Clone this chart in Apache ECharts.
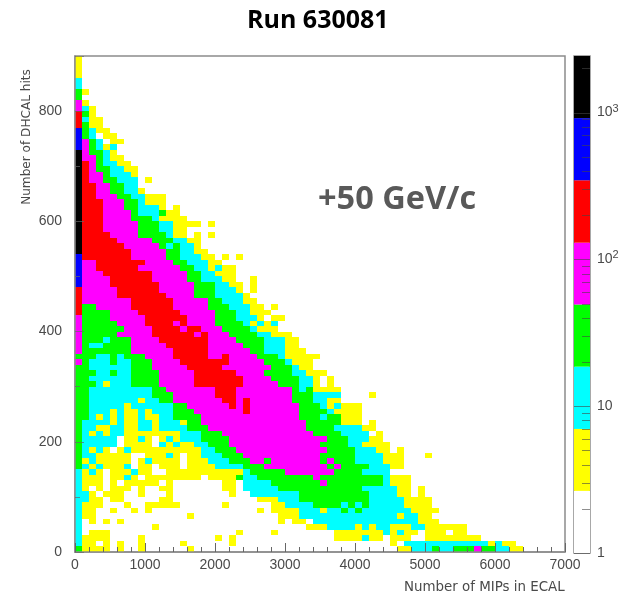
<!DOCTYPE html>
<html><head><meta charset="utf-8">
<style>html,body{margin:0;padding:0;background:#fff}#c{width:631px;height:596px}</style>
<script src="https://cdn.jsdelivr.net/npm/echarts@6/dist/echarts.min.js"></script>
</head><body><div id="c"></div>
<script>
// colour band per histogram cell, one string per row from y=890 down to y=0.
// each token is band or band:repeat, 0 = empty, 1..7 = yellow..black
const rowBands = [
"1","1","1","1","2","2","3 1","3","4 1","4 2 1","5 3 1","5 2 1:2","5 3 1:2","6 3 2 1:2","6 3 2 0 1:2",
"6 4 3 2 0 1:2","6 4 3 2 1 2","7 4 3:2 2 1","7 4:2 3 2 1:2","7 5 4 3 2:2 1:2","7 5 4 3:2 2:2 1:2",
"7 5 4:2 3 2:3 1","7 5 4:2 3:2 2:3 0 1","7 5:2 4:2 3:2 2:2","7 5:2 4:2 3:2 2:2 1","7 5:2 4:3 3:2 2:2 1:3",
"7 5:3 4:3 3:2 2 1:3","7 5:3 4:3 3:2 2:3 1 0 1","7 5:3 4:4 3 2:3 3 1:2","7 5:3 4:4 3:3 2 1:4",
"7 5:3 4:5 3:3 2:2 1:4 0 1","7 5:3 4:5 3:3 2:2 1:2","7 5:4 4:4 3:4 2 1:2 0 1 0 1","7 5:5 4:5 3:3 2:2 1:2",
"7 5:6 4:5 3 2 3 2:2 1","7 5:7 4:5 3:2 2:2 1:2","6 5:7 4:5 3:2 2:3 1:2 0 1 0 1","6 4:2 5:7 4:4 3:2 2:3 1:2",
"6 4:2 5:6 4:6 3:2 2:2 1 2 1:2","6 4:3 5:7 4:5 3:2 2:2 1:3","6 4:4 5:6 4:5 3:2 2:3 1:2 0:2 1",
"6 4:4 5:7 4:5 3:3 2:2 1:2 0 1","5 4:5 5:6 4:5 3:3 2:3 1 0 1","5 4:5 5:7 4:4 3:3 2:4 1","5 4:7 5:6 4:5 3:2 2:3 1:2",
"5 3:2 4:5 5:6 4:5 3:3 2:3 1:2 0 1","5 3:4 4:4 5:6 4:5 3:3 2:2 1:3","4 3:4 4:5 5:6 4:4 3:3 2:3 1 0 1:2",
"4 3:5 4:4 5:4 4 5 4:4 3:4 2 1 2 1 2","4 3:6 4:4 5:4 4 5:2 4:3 3:4 2 1:3","4 3:5 4:5 5:6 4 5 4:3 3:4 2:2 1:3",
"4 3:3 2 3:3 4:4 5:7 4:4 3:4 2:3 1:2","4 3 2:2 3:4 4:5 5:6 4:5 3:3 2:3 1:2","4 3:7 4:6 5:5 4:6 3:2 2:3 1:3",
"3:3 2:2 3 2 3:3 4:4 5:5 4:2 5 4:4 3:3 2 1:5","4 3 2:3 3 2:2 3:3 4:4 5:7 4:5 3:3 2 1:3","3:2 2:6 3:3 4:5 5:5 4:7 3:3 2 1:2",
"3:3 2:2 3 2:2 3:4 4:5 5:6 4:4 3:4 2:2 1:3","3:2 2:6 3:4 4:5 5:7 4:4 3:4 2:2 1 0 1","3:3 2 1 2:3 3:4 4:5 5:7 4:5 3:3 2:2 1 0 1",
"3:2 2:9 3:2 4:7 5:3 4:8 3 2 3 1:4","3:2 2:9 3:3 4:6 5:3 4:8 3:3 2:4 0:4 1","3:2 2:7 1 2:2 3:2 4:7 5:2 4 5 4:6 3:3 2:2 1:2",
"3:2 2:5 1 2:6 3:2 4:6 5 4 5 4:7 3:3 2 1 2 1:3","3:2 2:3 1 2 1:2 2 1 2:3 3:3 4:7 5 4:7 3:4 2 1:4",
"3:2 2 1 2 1 2 1:2 2 1:2 2:2 3:4 4:14 3:3 2 3:2 1:3","3 2:4 1 2 1:2 2:2 1 2:3 1 3:2 4:15 3:5 1:3 0 1",
"3 2:2 1:2 2:2 1:2 2:2 1 2:4 3:3 4:14 3:4 2:4 1:2","3 2 1 2 1 2:2 1:8 2:3 3:3 4:13 3:4 2:4 0 1",
"3 2:5 0 1:2 2 1 0 1 2 1 2:3 3:4 4:14 3:3 2:3 1:2","3 2:5 0 1:4 0 2 1 2 1:2 2:2 3:3 4:13 3:4 2:2 1:4",
"3 2 1 2 1 0 1 2 1:10 2:2 3:3 4:13 3:4 2:3 1:2 0 1","3 2:2 1:5 0:2 1:3 2 1 0 1:2 2:3 3:3 4:11 3:5 2:4 1:3 0:3 1",
"3 1 2 1:5 0 1 2 1:4 0 1:3 2:3 3:3 4:2 3 4:7 3 4 3:3 2:4 1:3","3 2 1 2 1:3 2 0 1:2 0 1:3 0 1:4 2:4 3:3 4:9 3 4 3:4 2:3 1:2",
"2 1 2 1 0 1:3 2 1:2 0:2 1:11 2 3:5 4:7 3:4 2:4","2 1:3 0 1:2 2 1 0 1:8 0 1:4 3 2:2 3:8 4 3:9 2 1:3",
"2 1:3 0 1 0 1:5 0 1 0:7 1:2 0 2:4 3:7 4 3:8 2 1:3","2 1 0 1 0 1:3 0 1 0:2 1:2 0:7 1:2 0 2:5 3:12 2:5 1:2 0 1",
"2:2 1 0 1:3 0:2 1 0:3 1 0:8 1 0:2 2:7 3:10 2:4 1:2 0 1","2:2 1:2 0 1:2 0:5 1:2 0:12 1:3 2:3 3:10 2:5 1:4",
"2 1:3 0:3 1 0:2 1:5 0:6 1 0:6 1:2 2:4 3:4 2 3 2 3 2:5 1:4","2 1:2 0:2 1 0:2 1 0 1 0:15 1 0 1:4 2:3 1 2:2 3 2 3 2:7 1:4",
"2 1:2 0:13 1 0:12 1:3 2:14 1 2:2 1:2","2 0 1 0 1 0 1 0:22 1 0 1:2 0 2:15 1:3",
"2 0:10 1 0:21 1:3 2:4 1 2 1 2:2 1:3 2:2 1:6","2 0 1:3 0:18 1 0:4 1 0:8 1:7 2 1 2 1:2 0 1:3 0 1:2",
"2 1:4 0:4 1 0:10 1 0 1 0:14 1:4 2 1:2 0 1:3 0:2 1:8","2 1:2 0 1 0 1 0:2 1 0:5 1 0:6 1 0:22 1 0 2:12 1 2 1:2",
"3 1:4 0 1 0:2 1 0:6 1 0:29 1:2 2:3 3 2:2 3:3 4 3:2 2:2 1:2"
];
const bandColors = ['#ffffff','#ffff00','#00ffff','#00ff00','#ff00ff','#ff0000','#0000ff','#000000'];
const bandEdges = [1,2.65,7,18.6,49.3,130,346,917,2430];
const binWidthX = 100, binWidthY = 10, rowCount = 90;
const xTicksMax = 7000, yTicksMax = 900;
const scaleMajor = [1,10,100,1000];
const scaleMinor = [2,3,4,5,6,7,8,9,20,30,40,50,60,70,80,90,200,300,400,500,600,700,800,900,2000];

const cells = [];
rowBands.forEach((row,i)=>{
  let k=0;
  row.split(' ').forEach(tok=>{
    const [b,n] = tok.split(':').map(Number);
    for(let j=0;j<(n||1);j++,k++){
      if(b>0) cells.push([k*binWidthX,(rowCount-1-i)*binWidthY,b]);
    }
  });
});
const bands = bandColors.map((c,i)=>[Math.log10(bandEdges[i]),Math.log10(bandEdges[i+1]),i]);
const scaleTicks = scaleMajor.map(v=>[Math.log10(v),0]).concat(scaleMinor.map(v=>[Math.log10(v),0.5]));
const scaleSup = {'1':'1','10':'10','100':'10{s|2}','1000':'10{s|3}'};
const labelColor='#4a4a4a', frame='#8c8c8c', sans='"Liberation Sans",Arial,sans-serif';

const chart = echarts.init(document.getElementById('c'),null,{renderer:'canvas'});
chart.setOption({
  animation:false,
  backgroundColor:'#fff',
  title:[
    {text:'Run 630081',left:247,top:8,padding:0,textStyle:{fontFamily:'"Open Sans"',fontWeight:'bold',fontSize:25,color:'#000'}},
    {text:'+50 GeV/c',left:318,top:183,padding:0,textStyle:{fontFamily:'"Open Sans"',fontWeight:'bold',fontSize:32.5,color:'#595959'}}
  ],
  grid:[
    {left:75,top:56,width:490,height:496,show:true,borderColor:frame,borderWidth:1.5,backgroundColor:'#fff',containLabel:false},
    {left:574,top:56,width:16,height:497,show:true,borderColor:frame,borderWidth:1.5,backgroundColor:'#fff',containLabel:false}
  ],
  xAxis:[
    {type:'value',gridIndex:0,min:0,max:xTicksMax,interval:1000,z:5,
     splitLine:{show:false},
     axisLine:{lineStyle:{color:frame,width:1.5}},
     axisTick:{inside:true,length:9,lineStyle:{color:'#666'}},
     minorTick:{show:true,splitNumber:5,length:5,lineStyle:{color:'#666'}},
     axisLabel:{color:labelColor,fontSize:14,fontFamily:sans,margin:6,formatter:v=>String(v)}},
    {type:'value',gridIndex:1,min:0,max:1,show:false}
  ],
  yAxis:[
    {type:'value',gridIndex:0,min:0,max:yTicksMax,interval:200,z:5,
     splitLine:{show:false},
     axisLine:{lineStyle:{color:frame,width:1.5}},
     axisTick:{inside:true,length:9,lineStyle:{color:'#666',opacity:.7}},
     minorTick:{show:true,splitNumber:2,length:5,lineStyle:{color:'#666',opacity:.7}},
     axisLabel:{color:labelColor,fontSize:14,fontFamily:sans,margin:13,showMaxLabel:false,formatter:v=>String(v)}},
    {type:'value',gridIndex:1,position:'right',min:0,max:Math.log10(bandEdges[8]),z:5,
     splitLine:{show:false},axisLine:{show:false},axisTick:{show:false},
     axisLabel:{show:true,customValues:scaleMajor.map(Math.log10),margin:7,color:labelColor,fontSize:14,fontFamily:sans,
       formatter:v=>scaleSup[String(Math.round(Math.pow(10,v)))],
       rich:{s:{fontSize:11,color:labelColor,fontFamily:sans,verticalAlign:'top',padding:[0,0,8,0]}}}}
  ],
  series:[
    {type:'custom',xAxisIndex:0,yAxisIndex:0,data:cells,encode:{x:0,y:1},z:2,clip:true,
     renderItem:(p,api)=>{
       const a=api.coord([api.value(0),api.value(1)]);
       const b=api.coord([api.value(0)+binWidthX,api.value(1)+binWidthY]);
       const x0=Math.round(a[0]),x1=Math.round(b[0]),y0=Math.round(b[1]),y1=Math.round(a[1]);
       return {type:'rect',shape:{x:x0,y:y0,width:x1-x0,height:y1-y0},
         style:{fill:bandColors[api.value(2)]}};
     }},
    {type:'custom',xAxisIndex:1,yAxisIndex:1,data:bands,encode:{y:[0,1]},z:2,
     renderItem:(p,api)=>{
       const a=api.coord([0,api.value(0)]);
       const b=api.coord([1,api.value(1)]);
       return {type:'rect',shape:{x:a[0],y:b[1],width:b[0]-a[0],height:a[1]-b[1]},
         style:{fill:bandColors[api.value(2)]}};
     }},
    {type:'custom',xAxisIndex:1,yAxisIndex:1,data:scaleTicks,encode:{y:0},z:3,
     renderItem:(p,api)=>{
       const a=api.coord([api.value(1),api.value(0)]);
       const b=api.coord([1,api.value(0)]);
       return {type:'line',shape:{x1:a[0],y1:Math.round(a[1])+.5,x2:b[0],y2:Math.round(a[1])+.5},
         style:{stroke:'#444',opacity:.6,lineWidth:1}};
     }}
  ],
  graphic:[
    {type:'text',x:404,y:581,z:10,style:{text:'Number of MIPs in ECAL',fill:labelColor,fontFamily:'"DejaVu Sans"',fontSize:13.4}},
    {type:'text',x:27,y:137,rotation:Math.PI/2,z:10,style:{text:'Number of DHCAL hits',fill:labelColor,fontFamily:'"DejaVu Sans"',fontSize:12.1,align:'center',verticalAlign:'middle'}}
  ]
});
</script></body></html>
